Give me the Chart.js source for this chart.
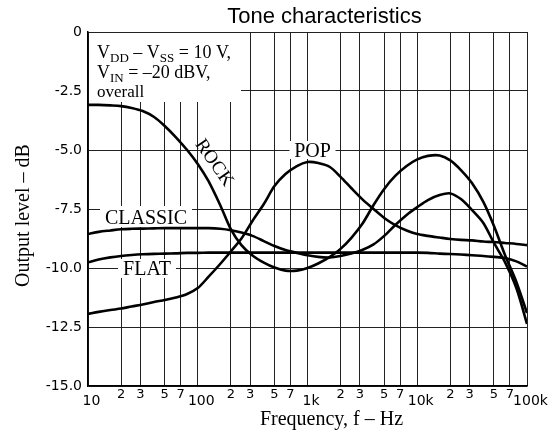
<!DOCTYPE html>
<html><head><meta charset="utf-8">
<script src="https://cdn.jsdelivr.net/npm/chart.js@4.4.1/dist/chart.umd.min.js"></script>
<style>html,body{margin:0;padding:0;background:#fff;overflow:hidden}canvas{display:block}</style>
</head><body>
<canvas id="c" width="558" height="433" style="width:558px;height:433px"></canvas>
<script>
// ---- data (1/10-decade frequencies) ----
const frequencies = [10,12.5,16,20,25,31.5,40,50,63,80,
  100,125,160,200,250,315,400,500,630,800,
  1000,1250,1600,2000,2500,3150,4000,5000,6300,8000,
  10000,12500,16000,20000,25000,31500,40000,50000,63000,80000,100000];
const rockDb = [-3.09,-3.09,-3.11,-3.14,-3.22,-3.35,-3.60,-3.98,-4.45,-5.00,
  -5.59,-6.31,-7.33,-8.35,-9.03,-9.47,-9.77,-9.98,-10.11,-10.11,
  -10.00,-9.81,-9.53,-9.19,-8.73,-8.14,-7.33,-6.65,-6.10,-5.68,
  -5.40,-5.25,-5.23,-5.44,-5.85,-6.40,-7.20,-8.22,-9.45,-10.59,-11.91];
const popDb = [-11.95,-11.86,-11.78,-11.72,-11.63,-11.55,-11.44,-11.36,-11.25,-11.10,
  -10.85,-10.38,-9.83,-9.30,-8.75,-8.01,-7.29,-6.53,-6.02,-5.68,
  -5.51,-5.55,-5.72,-6.14,-6.61,-7.08,-7.50,-7.88,-8.18,-8.41,
  -8.56,-8.64,-8.71,-8.77,-8.81,-8.83,-8.88,-8.90,-8.94,-8.98,-9.03];
const classicDb = [-8.56,-8.47,-8.41,-8.36,-8.34,-8.33,-8.32,-8.31,-8.31,-8.31,
  -8.31,-8.31,-8.34,-8.40,-8.50,-8.64,-8.86,-9.07,-9.24,-9.36,
  -9.46,-9.53,-9.55,-9.49,-9.39,-9.24,-9.00,-8.64,-8.18,-7.75,
  -7.42,-7.12,-6.91,-6.84,-7.08,-7.54,-8.09,-8.94,-9.75,-10.85,-12.37];
const flatDb = [-9.76,-9.64,-9.55,-9.49,-9.45,-9.42,-9.40,-9.39,-9.38,-9.36,
  -9.36,-9.35,-9.35,-9.35,-9.35,-9.35,-9.35,-9.35,-9.35,-9.35,
  -9.35,-9.35,-9.35,-9.35,-9.35,-9.35,-9.35,-9.35,-9.35,-9.35,
  -9.35,-9.36,-9.39,-9.41,-9.43,-9.46,-9.49,-9.53,-9.58,-9.72,-9.94];

const yTickValues = [0,-2.5,-5,-7.5,-10,-12.5,-15];
const yTickLabels = ['0','-2.5','-5.0','-7.5','-10.0','-12.5','-15.0'];
const xTickValues = [10,20,30,50,70,100,200,300,500,700,1000,2000,3000,5000,7000,10000,20000,30000,50000,70000,100000];
const xTickLabels = ['10','2','3','5','7','100','2','3','5','7','1k','2','3','5','7','10k','2','3','5','7','100k'];

const SERIF = '"Liberation Serif", "Times New Roman", serif';
const SANS = '"Liberation Sans", Arial, sans-serif';
const TICKF = '"DejaVu Sans", sans-serif';

const mk = vals => frequencies.map((f, i) => ({x: f, y: vals[i]}));

function drawRich(ctx, parts, x, y, size, subSize) {
  let cx = x;
  parts.forEach(p => {
    ctx.font = (p.sub ? subSize : size) + 'px ' + SERIF;
    ctx.fillText(p.t, cx, p.sub ? y + 4 : y);
    cx += ctx.measureText(p.t).width;
  });
}

const annotPlugin = {
  id: 'annot',
  beforeDatasetsDraw(chart) {
    const ctx = chart.ctx, xs = chart.scales.x, ys = chart.scales.y;
    const a = chart.chartArea;
    ctx.save();
    ctx.fillStyle = '#fff';
    // condition box (top-left)
    ctx.fillRect(a.left + 1, a.top + 1, 152, 69);
    // POP label box
    const popX = xs.getPixelForValue(1000) + 5, popY = ys.getPixelForValue(-5);
    ctx.fillRect(popX - 23, popY - 9, 46, 18);
    // CLASSIC label box
    const clY = ys.getPixelForValue(-7.5);
    ctx.fillRect(100, clY - 3, 92, 21);
    // FLAT label box
    const flY = ys.getPixelForValue(-10);
    ctx.fillRect(118, flY - 9, 58, 19);

    ctx.fillStyle = '#000';
    ctx.textAlign = 'left';
    ctx.textBaseline = 'alphabetic';
    drawRich(ctx, [{t:'V'},{t:'DD',sub:true},{t:' \u2013 V'},{t:'SS',sub:true},{t:' = 10 V,'}], a.left + 9, a.top + 26, 18, 13);
    drawRich(ctx, [{t:'V'},{t:'IN',sub:true},{t:' = \u201320 dBV,'}], a.left + 9, a.top + 46, 18, 13);
    ctx.font = '17px ' + SERIF;
    ctx.fillText('overall', a.left + 9, a.top + 65);

    ctx.textAlign = 'center';
    ctx.font = '20px ' + SERIF;
    ctx.fillText('POP', popX, popY + 7);
    ctx.fillText('CLASSIC', 146, clY + 15);
    ctx.fillText('FLAT', 147, flY + 7);

    ctx.save();
    ctx.translate(214, 163);
    ctx.rotate(55 * Math.PI / 180);
    ctx.textBaseline = 'middle';
    ctx.font = '19px ' + SERIF;
    ctx.fillText('ROCK', 0, 0);
    ctx.restore();
    ctx.restore();
  },
  afterDraw(chart) {
    const ctx = chart.ctx, xs = chart.scales.x;
    ctx.save();
    ctx.fillStyle = '#000';
    ctx.textAlign = 'center';
    ctx.textBaseline = 'alphabetic';
    xTickValues.forEach((v, i) => {
      const major = Math.abs(Math.log10(v) - Math.round(Math.log10(v))) < 1e-9;
      const px = xs.getPixelForValue(v) + (major ? 3.5 : 0);
      ctx.font = (major ? 14 : 13) + 'px ' + TICKF;
      ctx.fillText(xTickLabels[i], px, major ? 404.5 : 397.5);
    });
    // chart title
    ctx.font = '22px ' + SANS;
    ctx.fillText('Tone characteristics', 324.5, 23);
    // axis titles
    ctx.font = '20px ' + SERIF;
    ctx.fillText('Frequency, f \u2013 Hz', 331.5, 425);
    ctx.save();
    ctx.translate(29, 215.5);
    ctx.rotate(-Math.PI / 2);
    ctx.fillText('Output level \u2013 dB', 0, 0);
    ctx.restore();
    ctx.restore();
  }
};

const gridOpts = {color: '#222', lineWidth: 1, drawTicks: false};

new Chart(document.getElementById('c'), {
  type: 'line',
  data: {
    datasets: [
      {label: 'ROCK', data: mk(rockDb)},
      {label: 'POP', data: mk(popDb)},
      {label: 'CLASSIC', data: mk(classicDb)},
      {label: 'FLAT', data: mk(flatDb)}
    ]
  },
  options: {
    responsive: false,
    animation: false,
    devicePixelRatio: 1,
    layout: {padding: {left: 0, right: 31, top: 32, bottom: 0}},
    plugins: {legend: {display: false}, title: {display: false}, tooltip: {enabled: false}},
    elements: {
      line: {borderColor: '#000', borderWidth: 2.6, tension: 0.3, fill: false, capBezierPoints: true},
      point: {radius: 0}
    },
    scales: {
      x: {
        type: 'logarithmic', min: 10, max: 100000,
        afterBuildTicks: s => { s.ticks = xTickValues.map(v => ({value: v})); },
        afterFit: s => { s.height = 47; },
        ticks: {display: false},
        grid: gridOpts,
        border: {color: '#000', width: 1.5}
      },
      y: {
        type: 'linear', min: -15, max: 0,
        afterBuildTicks: s => { s.ticks = yTickValues.map(v => ({value: v})); },
        afterFit: s => { s.width = 88; },
        ticks: {
          padding: 6, color: '#000',
          font: {family: TICKF, size: 14},
          callback: v => yTickLabels[yTickValues.indexOf(v)]
        },
        grid: gridOpts,
        border: {color: '#000', width: 1.5}
      }
    }
  },
  plugins: [annotPlugin]
});
</script>
</body></html>
